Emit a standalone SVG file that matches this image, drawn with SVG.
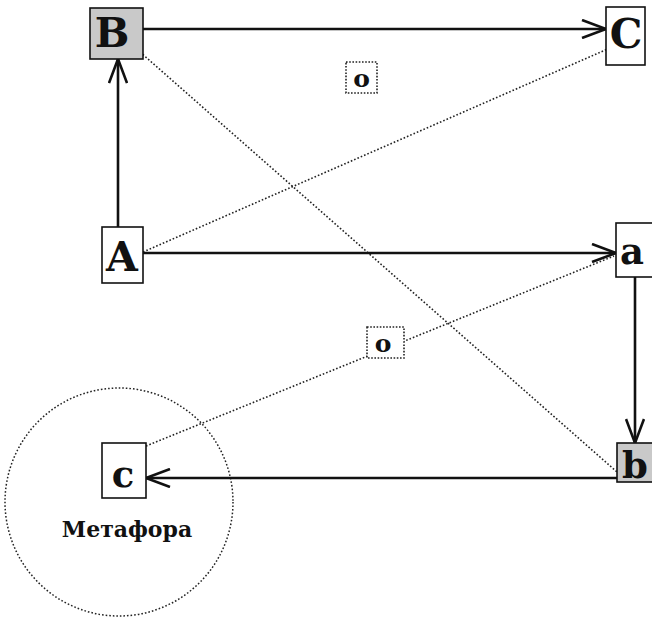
<svg xmlns="http://www.w3.org/2000/svg" width="652" height="618" viewBox="0 0 652 618">
  <defs>
    <marker id="arrow" viewBox="0 0 26 20" refX="25" refY="10" markerWidth="26" markerHeight="20" markerUnits="userSpaceOnUse" orient="auto">
      <path d="M1,1 L25,10 L1,19" fill="none" stroke="#111" stroke-width="2.6" stroke-linejoin="miter"/>
    </marker>
  </defs>
  <style>
    .box { fill: #fff; stroke: #111; stroke-width: 1.6; }
    .shaded { fill: #c9c9c9; }
    .dbox { fill: #fff; stroke: #222; stroke-width: 1.6; stroke-dasharray: 1.6 1.6; }
    .lbl { font-family: "DejaVu Serif", "Liberation Serif", serif; font-weight: bold; fill: #111; text-anchor: middle; }
    .up { font-size: 41px; }
    .lo { font-size: 37px; }
    .sm { font-size: 25px; }
    .cap { font-size: 22px; }
    .link { stroke: #111; stroke-width: 2.6; fill: none; marker-end: url(#arrow); }
    .dot { stroke: #222; stroke-width: 1.6; fill: none; stroke-dasharray: 1.6 2; }
  </style>
  <rect width="652" height="618" fill="#fff"/>

  <!-- metaphor region -->
  <circle cx="119" cy="502" r="114" fill="none" stroke="#222" stroke-width="1.5" stroke-dasharray="1.6 2"/>

  <g id="connectors">
    <line class="dot" x1="140" y1="52" x2="617" y2="472"/>
    <line class="dot" x1="143" y1="252" x2="610" y2="48"/>
    <line class="dot" x1="146" y1="446" x2="614" y2="256"/>
    <line class="link" x1="118" y1="227" x2="118" y2="59"/>
    <line class="link" x1="143" y1="29" x2="606" y2="29"/>
    <line class="link" x1="143" y1="253" x2="616" y2="253"/>
    <line class="link" x1="635" y1="277" x2="635" y2="443"/>
    <line class="link" x1="617" y1="478" x2="146" y2="478"/>
  </g>

  <g id="node-B">
    <rect class="box shaded" x="90" y="8" width="53" height="51"/>
    <text class="lbl up" x="112" y="47">B</text>
  </g>
  <g id="node-C">
    <rect class="box" x="606" y="7" width="39" height="58"/>
    <text class="lbl up" x="626" y="48">C</text>
  </g>
  <g id="node-A">
    <rect class="box" x="102" y="227" width="41" height="56"/>
    <text class="lbl up" x="122" y="271">A</text>
  </g>
  <g id="node-a">
    <rect class="box" x="616" y="223" width="40" height="54"/>
    <text class="lbl lo" x="632" y="264">a</text>
  </g>
  <g id="node-b">
    <rect class="box shaded" x="617" y="443" width="39" height="39"/>
    <text class="lbl lo" x="635" y="478">b</text>
  </g>
  <g id="node-c">
    <rect class="box" x="102" y="443" width="44" height="55"/>
    <text class="lbl lo" x="123" y="487">c</text>
    <text class="lbl cap" x="127" y="537">Метафора</text>
  </g>
  <g id="node-o1">
    <rect class="dbox" x="346" y="62" width="31" height="31"/>
    <text class="lbl sm" x="361.5" y="87">o</text>
  </g>
  <g id="node-o2">
    <rect class="dbox" x="367" y="327" width="37" height="31"/>
    <text class="lbl sm" x="383" y="352">o</text>
  </g>
</svg>
